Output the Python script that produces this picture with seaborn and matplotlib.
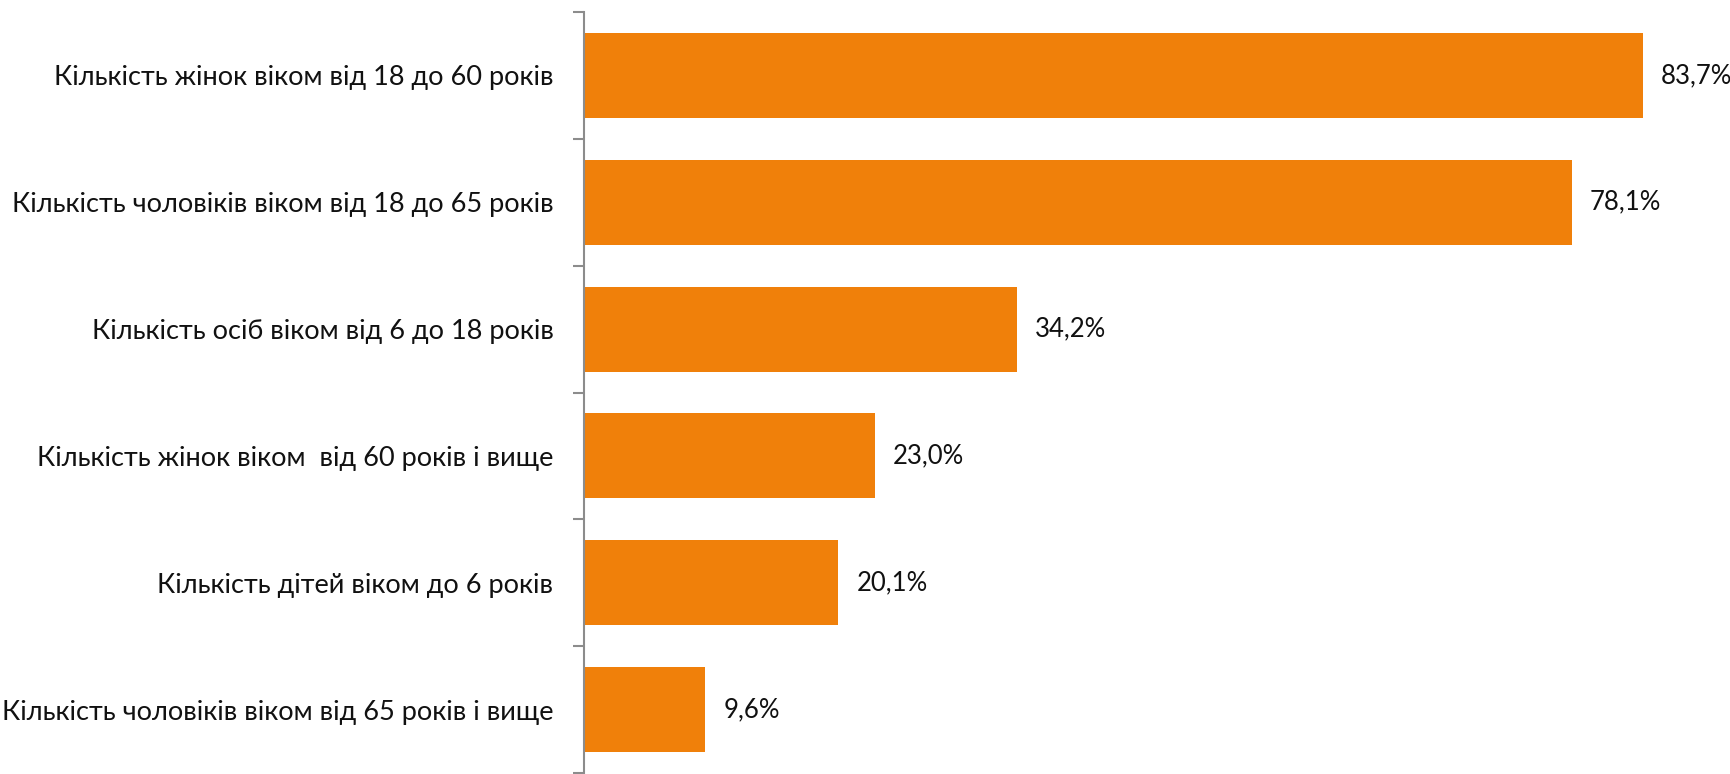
import matplotlib
matplotlib.use("Agg")
import matplotlib.pyplot as plt
import seaborn as sns
import pandas as pd
import numpy as np

categories = [
    "Кількість жінок віком від 18 до 60 років",
    "Кількість чоловіків віком від 18 до 65 років",
    "Кількість осіб віком від 6 до 18 років",
    "Кількість жінок віком  від 60 років і вище",
    "Кількість дітей віком до 6 років",
    "Кількість чоловіків віком від 65 років і вище",
]
values = [83.7, 78.1, 34.2, 23.0, 20.1, 9.6]
value_labels = ["83,7%", "78,1%", "34,2%", "23,0%", "20,1%", "9,6%"]

sns.set_theme(style="white")
plt.rcParams["font.family"] = ["Lato", "DejaVu Sans"]

W, H = 1730, 774
fig = plt.figure(figsize=(W / 100, H / 100), dpi=100)
ax = fig.add_axes([584 / W, 1 / H, (W - 584) / W, (773 - 12) / H])

df = pd.DataFrame({"cat": categories, "val": values})
sns.barplot(data=df, x="val", y="cat", orient="h", color="#F0800A",
            saturation=1, width=0.67, ax=ax, edgecolor="none")

ax.set_xlim(0, 90.6)
ax.set_ylim(len(categories) - 0.5, -0.5)
ax.set_xlabel("")
ax.set_ylabel("")
ax.set_xticks([])

for s in ["top", "right", "bottom"]:
    ax.spines[s].set_visible(False)
ax.spines["left"].set_color("#8C8C8C")
ax.spines["left"].set_linewidth(1.5)

ax.set_yticks(np.arange(len(categories)))
ax.set_yticklabels(categories, fontsize=19.5, color="#111111")
ax.tick_params(axis="y", which="major", length=0, pad=22)
ax.set_yticks(np.arange(-0.5, len(categories)), minor=True)
ax.tick_params(axis="y", which="minor", length=8, width=1.5, color="#8C8C8C", left=True)

for cont in ax.containers:
    ax.bar_label(cont, labels=value_labels, padding=13, fontsize=18.5, color="#111111")

fig.savefig("out.png", dpi=100)
